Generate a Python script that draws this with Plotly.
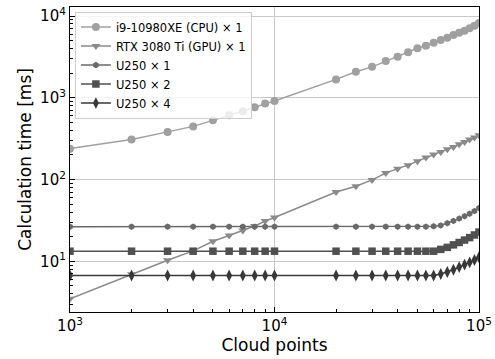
import plotly.graph_objects as go
import math

cloud_points = [1000, 2000, 3000, 4000, 5000, 6000, 7000, 8000, 9000, 10000,
                20000, 25000, 30000, 35000, 40000, 45000, 50000, 55000, 60000,
                65000, 70000, 75000, 80000, 85000, 90000, 95000, 100000]

cpu_ms = [239, 310, 383, 447, 530, 610, 685, 767, 850, 916,
          1680, 2080, 2390, 2810, 3180, 3600, 4030, 4340, 4710,
          5080, 5420, 5850, 6250, 6610, 7080, 7600, 8200]

gpu_ms = [3.49, 6.93, 10.3, 13.4, 17.6, 20.7, 23.9, 27.0, 31.1, 34.3,
          70.5, 82.8, 99, 120, 136, 150, 168, 186, 202,
          218, 235, 251, 270, 288, 308, 327, 348]

u250x1_ms = [26.5] * 18 + [26.8, 27.5, 29.3, 31.2, 33.3, 35.6, 38.2, 41.2, 44.8]
u250x2_ms = [13.3] * 19 + [14.0, 14.8, 15.9, 17.0, 18.2, 19.5, 21.0, 22.8]
u250x4_ms = [6.7] * 19 + [7.0, 7.4, 7.9, 8.5, 9.1, 9.7, 10.4, 11.2]

series_names = ["i9-10980XE (CPU) × 1", "RTX 3080 Ti (GPU) × 1",
                "U250 × 1", "U250 × 2", "U250 × 4"]
series_values = [cpu_ms, gpu_ms, u250x1_ms, u250x2_ms, u250x4_ms]

x_tick_vals = [1e3, 1e4, 1e5]
x_tick_text = ["10<sup>3</sup>", "10<sup>4</sup>", "10<sup>5</sup>"]
y_tick_vals = [1e1, 1e2, 1e3, 1e4]
y_tick_text = ["10<sup>1</sup>", "10<sup>2</sup>", "10<sup>3</sup>", "10<sup>4</sup>"]

colors = ["#a0a0a0", "#8a8a8a", "#6a6a6a", "#505050", "#383838"]
symbols = ["circle", "triangle-down", "hexagon", "square", "diamond-tall"]
msizes = [8, 8, 6.5, 7.5, 8.5]

fig = go.Figure()
for name, vals, c, s, ms in zip(series_names, series_values, colors, symbols, msizes):
    fig.add_trace(go.Scatter(
        x=cloud_points, y=vals, name=name, mode="lines+markers",
        line=dict(color=c, width=1.5),
        marker=dict(symbol=s, size=ms, color=c, line=dict(width=0)),
    ))

minor_x = [m * 10 ** e for e in (3, 4) for m in range(2, 10)]
minor_y = [m * 10 ** e for e in (0, 1, 2, 3, 4) for m in range(2, 10)]

font_family = "DejaVu Sans"
fig.update_layout(
    width=495, height=359, autosize=False,
    margin=dict(l=70, r=15.5, t=7, b=47.3, autoexpand=False),
    paper_bgcolor="white", plot_bgcolor="white",
    font=dict(family=font_family, color="black", size=14),
    showlegend=True,
    legend=dict(x=0.012, y=0.985, xanchor="left", yanchor="top",
                bgcolor="rgba(255,255,255,0.8)", bordercolor="#cccccc", borderwidth=1,
                font=dict(size=11.5, family=font_family), tracegroupgap=0),
    xaxis=dict(type="log", range=[3, 5], tickvals=x_tick_vals, ticktext=x_tick_text,
               automargin=False,
               showgrid=True, gridcolor="#c8c8c8", gridwidth=1,
               showline=True, linecolor="black", linewidth=1.2, mirror=True,
               ticks="inside", ticklen=5, tickcolor="black",
               minor=dict(tickvals=minor_x, ticks="inside", ticklen=3, tickcolor="black", showgrid=False),
               title=dict(text="Cloud points", font=dict(size=17), standoff=2),
               tickfont=dict(size=15), zeroline=False),
    yaxis=dict(type="log", range=[math.log10(2.4), math.log10(12900)],
               tickvals=y_tick_vals, ticktext=y_tick_text,
               automargin=False,
               showgrid=True, gridcolor="#c8c8c8", gridwidth=1,
               showline=True, linecolor="black", linewidth=1.2, mirror=True,
               ticks="inside", ticklen=5, tickcolor="black",
               minor=dict(tickvals=minor_y, ticks="inside", ticklen=3, tickcolor="black", showgrid=False),
               title=dict(text="Calculation time [ms]", font=dict(size=17), standoff=4),
               tickfont=dict(size=15), zeroline=False),
)

fig.write_html(
    "out.html",
    config={"displayModeBar": False, "responsive": False},
    post_script="document.body.style.margin='0';document.body.style.overflow='hidden';",
)
